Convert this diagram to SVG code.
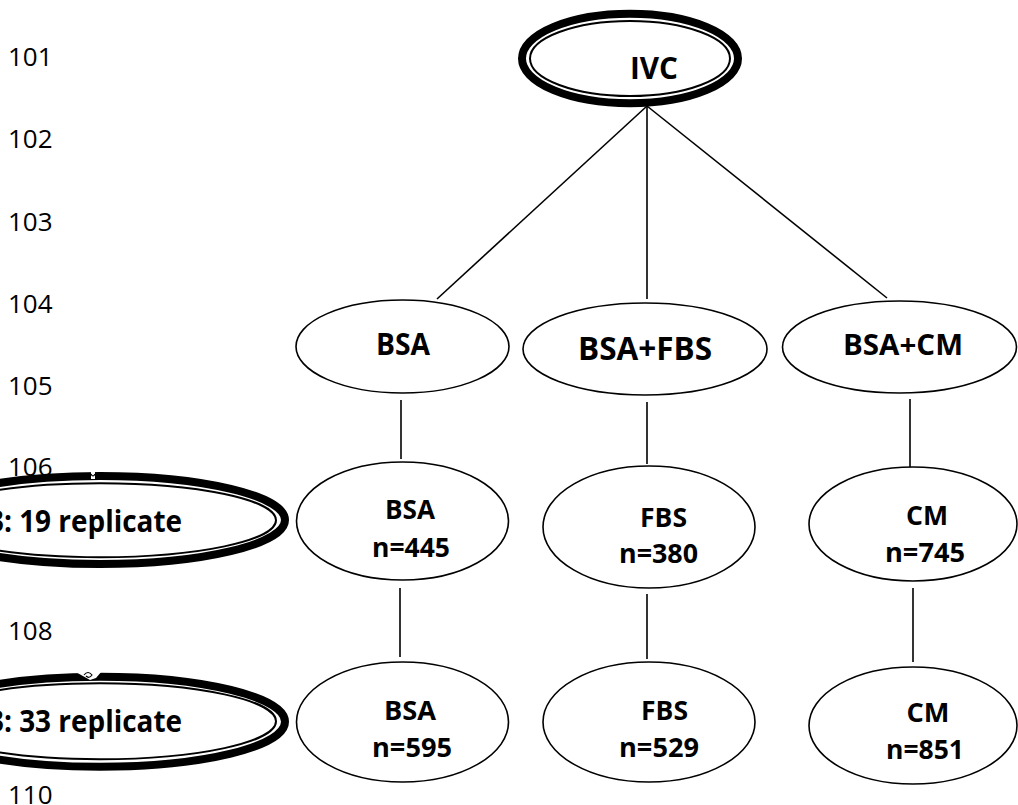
<svg xmlns="http://www.w3.org/2000/svg" width="1018" height="805" viewBox="0 0 1018 805">
<style>
.ln{font-family:"Open Sans","Liberation Sans",sans-serif;font-size:26px;fill:#000}
.t{font-family:"Open Sans","Liberation Sans",sans-serif;font-weight:bold;fill:#000;text-anchor:middle}
.t1{font-size:30px}
.t2{font-size:26px}
.e{fill:#fff;stroke:#000;stroke-width:1.6}
.thick{fill:#fff;stroke:#000;stroke-width:8}
.thin{fill:none;stroke:#000;stroke-width:2}
.c{stroke:#000;stroke-width:1.6;fill:none}
.gap{fill:#fff;stroke:none}
.curl{fill:none;stroke:#000;stroke-width:1.2}
</style>
<rect width="1018" height="805" fill="#fff"/>
<g id="line-numbers">
<text class="ln" x="8" y="66">101</text>
<text class="ln" x="8" y="148">102</text>
<text class="ln" x="8" y="231">103</text>
<text class="ln" x="8" y="313">104</text>
<text class="ln" x="8" y="395">105</text>
<text class="ln" x="8" y="476">106</text>
<text class="ln" x="8" y="640">108</text>
<text class="ln" x="8" y="804">110</text>
</g>
<g id="connectors">
<line class="c" x1="647" y1="106" x2="437" y2="299"/>
<line class="c" x1="647" y1="106" x2="647" y2="299"/>
<line class="c" x1="647" y1="106" x2="887" y2="298"/>
<line class="c" x1="401" y1="400" x2="401" y2="459"/>
<line class="c" x1="647" y1="402" x2="647" y2="464"/>
<line class="c" x1="910" y1="399" x2="910" y2="468"/>
<line class="c" x1="400" y1="588" x2="400" y2="657"/>
<line class="c" x1="647" y1="594" x2="647" y2="659"/>
<line class="c" x1="913" y1="588" x2="913" y2="662"/>
</g>
<g id="ivc">
<ellipse class="thick" cx="630" cy="58.5" rx="108" ry="44.8"/>
<ellipse class="thin" cx="630" cy="58.5" rx="100" ry="37.5"/>
<text class="t" style="font-size:31px" x="654" y="79" textLength="48" lengthAdjust="spacingAndGlyphs">IVC</text>
</g>
<g id="bsa1">
<ellipse class="e" cx="402.5" cy="346.5" rx="106.5" ry="46.5"/>
<text class="t t1" x="403" y="355" textLength="54" lengthAdjust="spacingAndGlyphs">BSA</text>
</g>
<g id="bsafbs1">
<ellipse class="e" cx="645" cy="349" rx="122" ry="46"/>
<text class="t" style="font-size:32px" x="645" y="360" textLength="134" lengthAdjust="spacingAndGlyphs">BSA+FBS</text>
</g>
<g id="bsacm1">
<ellipse class="e" cx="899.5" cy="347" rx="117" ry="46"/>
<text class="t" style="font-size:29px" x="903" y="355" textLength="120" lengthAdjust="spacingAndGlyphs">BSA+CM</text>
</g>
<g id="bsa2">
<ellipse class="e" cx="402.5" cy="521" rx="106" ry="59"/>
<text class="t t2" x="410" y="519" textLength="50" lengthAdjust="spacingAndGlyphs">BSA</text>
<text class="t t2" x="411" y="557" textLength="78" lengthAdjust="spacingAndGlyphs">n=445</text>
</g>
<g id="fbs2">
<ellipse class="e" cx="649" cy="527" rx="106" ry="61"/>
<text class="t t2" x="663.5" y="527" textLength="47" lengthAdjust="spacingAndGlyphs">FBS</text>
<text class="t t2" x="658.5" y="563" textLength="79" lengthAdjust="spacingAndGlyphs">n=380</text>
</g>
<g id="cm2">
<ellipse class="e" cx="913" cy="524" rx="104" ry="57"/>
<text class="t t2" x="927" y="525" textLength="42" lengthAdjust="spacingAndGlyphs">CM</text>
<text class="t t2" x="925" y="562" textLength="80" lengthAdjust="spacingAndGlyphs">n=745</text>
</g>
<g id="bsa3">
<ellipse class="e" cx="402.5" cy="722" rx="106" ry="60"/>
<text class="t t2" x="410" y="720" textLength="52" lengthAdjust="spacingAndGlyphs">BSA</text>
<text class="t t2" x="412" y="757" textLength="80" lengthAdjust="spacingAndGlyphs">n=595</text>
</g>
<g id="fbs3">
<ellipse class="e" cx="649" cy="722" rx="106" ry="60"/>
<text class="t t2" x="664.5" y="720" textLength="47" lengthAdjust="spacingAndGlyphs">FBS</text>
<text class="t t2" x="659" y="757" textLength="80" lengthAdjust="spacingAndGlyphs">n=529</text>
</g>
<g id="cm3">
<ellipse class="e" cx="913" cy="725.5" rx="104" ry="58.5"/>
<text class="t t2" x="928" y="722" textLength="43" lengthAdjust="spacingAndGlyphs">CM</text>
<text class="t t2" x="925" y="759" textLength="78" lengthAdjust="spacingAndGlyphs">n=851</text>
</g>
<g id="rep19">
<ellipse class="thick" cx="100" cy="520" rx="185" ry="44"/>
<ellipse class="thin" cx="100" cy="520.2" rx="176" ry="37"/>
<rect class="gap" x="91" y="471" width="4" height="8"/>
<path class="curl" d="M91 474 q2 4 4 0"/>
<text class="t t1" style="text-anchor:end" x="182" y="532" textLength="194" lengthAdjust="spacingAndGlyphs">3: 19 replicate</text>
</g>
<g id="rep33">
<ellipse class="thick" cx="100" cy="721.75" rx="185" ry="45"/>
<ellipse class="thin" cx="100" cy="721.25" rx="176" ry="38"/>
<path class="gap" d="M74 671 L102 671 L96 678 L90 680 Z"/>
<path class="curl" d="M84 675 q4 -5 8 0 q-3 4 -6 1"/>
<text class="t t1" style="text-anchor:end" x="182" y="732" textLength="194" lengthAdjust="spacingAndGlyphs">3: 33 replicate</text>
</g>
</svg>
